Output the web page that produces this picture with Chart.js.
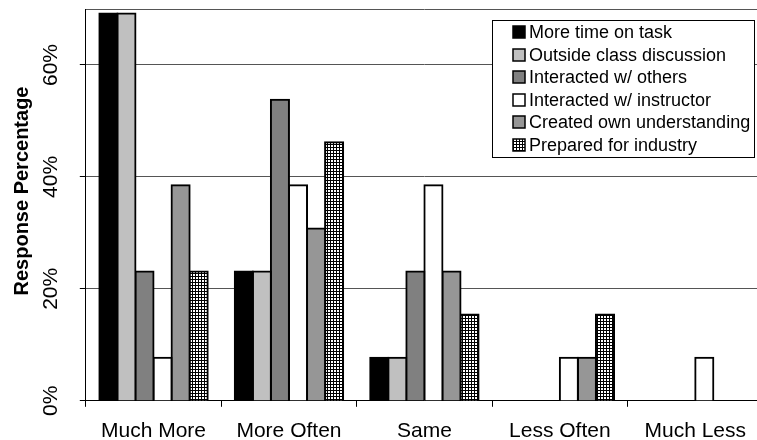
<!DOCTYPE html>
<html>
<head>
  <meta charset="UTF-8">
  <title>Response Percentage</title>
  <script src="https://cdn.jsdelivr.net/npm/chart.js"></script>
  <style>
    html, body { margin: 0; padding: 0; overflow: hidden; background: #fff; }
    canvas { display: block; }
  </style>
</head>
<body>
  <canvas id="chart" width="770" height="463"></canvas>

  <script>
    // values (percent of responses)
    const categories = ['Much More', 'More Often', 'Same', 'Less Often', 'Much Less'];
    const seriesNames = [
      'More time on task',
      'Outside class discussion',
      'Interacted w/ others',
      'Interacted w/ instructor',
      'Created own understanding',
      'Prepared for industry'
    ];
    const moreTimeOnTask       = [69.2, 23.1, 7.7, 0, 0];
    const outsideClassDisc     = [69.2, 23.1, 7.7, 0, 0];
    const interactedOthers     = [23.1, 53.8, 23.1, 0, 0];
    const interactedInstructor = [7.7, 38.5, 38.5, 7.7, 7.7];
    const createdUnderstanding = [38.5, 30.8, 23.1, 7.7, 0];
    const preparedIndustry     = [23.1, 46.2, 15.4, 15.4, 0];
    const yTickValues = [0, 20, 40, 60];
    const yMax = 70;

    const FONT = "'Liberation Sans', Arial, sans-serif";
    const canvas = document.getElementById('chart');
    const ctx = canvas.getContext('2d');

    // small square grid fill for "Prepared for industry"
    const tile = document.createElement('canvas');
    tile.width = 3; tile.height = 3;
    const tg = tile.getContext('2d');
    tg.fillStyle = '#fff'; tg.fillRect(0, 0, 3, 3);
    tg.fillStyle = '#000'; tg.fillRect(0, 0, 3, 1); tg.fillRect(0, 0, 1, 3);
    const gridFill = ctx.createPattern(tile, 'repeat');

    const fills = ['#000000', '#c0c0c0', '#808080', '#ffffff', '#969696', gridFill];
    const values = [moreTimeOnTask, outsideClassDisc, interactedOthers,
                    interactedInstructor, createdUnderstanding, preparedIndustry];

    // boxed legend in the top right corner of the plot
    const boxLegend = {
      id: 'boxLegend',
      afterDraw(chart) {
        const c = chart.ctx;
        c.save();
        c.fillStyle = '#fff';
        c.fillRect(492.5, 20.5, 262, 137);
        c.strokeStyle = '#000';
        c.lineWidth = 1;
        c.strokeRect(492.5, 20.5, 262, 137);
        c.font = '18px ' + FONT;
        c.textBaseline = 'middle';
        chart.data.datasets.forEach((ds, i) => {
          const cy = Math.round(32 + i * 22.6);
          c.fillStyle = ds.backgroundColor;
          c.fillRect(513, cy - 6, 12, 12);
          c.lineWidth = 1.5;
          c.strokeStyle = '#000';
          c.strokeRect(513, cy - 6, 12, 12);
          c.fillStyle = '#000';
          c.fillText(ds.label, 529, cy + 1);
        });
        c.restore();
      }
    };

    new Chart(ctx, {
      type: 'bar',
      data: {
        labels: categories,
        datasets: seriesNames.map((name, i) => ({
          label: name,
          data: values[i],
          backgroundColor: fills[i]
        }))
      },
      plugins: [boxLegend],
      options: {
        responsive: false,
        animation: false,
        layout: { padding: { left: 6.6, right: 7, top: 9, bottom: 7 } },
        datasets: {
          bar: { categoryPercentage: 0.8, barPercentage: 1, borderWidth: 2, borderColor: '#000', inflateAmount: 1 }
        },
        plugins: { legend: { display: false }, tooltip: { enabled: false } },
        scales: {
          x: {
            grid: { offset: true, drawOnChartArea: false, drawTicks: true, tickLength: 6, tickColor: '#000' },
            border: { color: '#000', width: 1 },
            ticks: { color: '#000', font: { family: FONT, size: 21 }, padding: 12, maxRotation: 0 }
          },
          y: {
            min: 0,
            max: yMax,
            afterBuildTicks: s => { s.ticks = yTickValues.concat([yMax]).map(v => ({ value: v })); },
            grid: {
              color: '#555',
              tickLength: 6,
              tickColor: c => (c.tick && c.tick.value === yMax) ? 'rgba(0,0,0,0)' : '#000'
            },
            border: { color: '#000', width: 1 },
            ticks: {
              color: '#000',
              font: { family: FONT, size: 21, lineHeight: 0.01 },
              padding: 8,
              minRotation: 90,
              maxRotation: 90,
              crossAlign: 'center',
              callback: v => v === yMax ? '' : v + '%'
            },
            title: {
              display: true,
              text: '     Response Percentage',
              color: '#000',
              font: { family: FONT, size: 20, weight: 'bold' },
              padding: { top: 4, bottom: 29 }
            }
          }
        }
      }
    });
  </script>
</body>
</html>
